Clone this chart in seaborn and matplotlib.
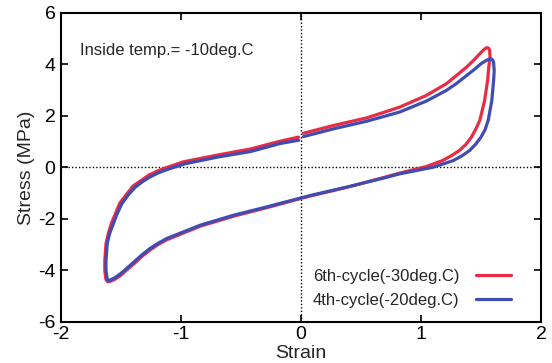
import matplotlib
matplotlib.use("Agg")
import matplotlib.pyplot as plt
import seaborn as sns
import pandas as pd

# 6th cycle (-30 deg.C) loop
red_x = [0.02, 0.27, 0.55, 0.82, 1.045, 1.21, 1.295, 1.38, 1.44, 1.49, 1.525, 1.545, 1.562, 1.572, 1.575,
         1.565, 1.555, 1.53, 1.49, 1.455, 1.42, 1.375, 1.32, 1.25, 1.18, 1.045, 0.82, 0.68, 0.4, 0.075, 0.0,
         -0.285, -0.56, -0.84, -1.12, -1.19, -1.26, -1.33, -1.39, -1.45, -1.50, -1.55, -1.59, -1.612,
         -1.625, -1.635, -1.635, -1.625, -1.605, -1.58, -1.547, -1.51, -1.45, -1.40, -1.325, -1.27,
         -1.20, -1.12, -0.98, -0.70, -0.42, -0.175, -0.02]
red_y = [1.33, 1.63, 1.93, 2.34, 2.80, 3.25, 3.57, 3.90, 4.17, 4.42, 4.58, 4.65, 4.64, 4.56, 4.30,
         3.90, 3.38, 2.60, 1.83, 1.48, 1.18, 0.90, 0.66, 0.45, 0.27, 0.04, -0.22, -0.40, -0.75, -1.11, -1.20,
         -1.56, -1.89, -2.28, -2.81, -2.99, -3.21, -3.47, -3.73, -3.97, -4.18, -4.34, -4.42, -4.43,
         -4.36, -4.00, -3.61, -2.96, -2.55, -2.17, -1.80, -1.38, -1.02, -0.72, -0.48, -0.30,
         -0.14, 0.00, 0.22, 0.48, 0.72, 1.02, 1.18]

# 4th cycle (-20 deg.C) loop
blue_x = [0.02, 0.27, 0.55, 0.82, 1.045, 1.21, 1.295, 1.38, 1.45, 1.50, 1.545, 1.572, 1.585, 1.598, 1.605,
          1.61, 1.605, 1.59, 1.56, 1.535, 1.50, 1.455, 1.405, 1.34, 1.27, 1.10, 0.82, 0.68, 0.4, 0.075, 0.0,
          -0.285, -0.56, -0.84, -1.12, -1.19, -1.26, -1.33, -1.39, -1.45, -1.50, -1.55, -1.59, -1.605,
          -1.615, -1.625, -1.625, -1.615, -1.595, -1.565, -1.535, -1.495, -1.44, -1.385, -1.315, -1.255,
          -1.19, -1.11, -0.97, -0.70, -0.42, -0.175, -0.02]
blue_y = [1.20, 1.50, 1.80, 2.15, 2.58, 2.99, 3.26, 3.57, 3.83, 4.03, 4.16, 4.21, 4.22, 4.17, 4.09,
          3.75, 3.38, 2.60, 1.83, 1.48, 1.18, 0.90, 0.66, 0.45, 0.27, 0.01, -0.25, -0.42, -0.74, -1.09, -1.18,
          -1.53, -1.85, -2.24, -2.76, -2.94, -3.15, -3.41, -3.66, -3.91, -4.11, -4.28, -4.37, -4.39,
          -4.33, -4.00, -3.61, -2.96, -2.57, -2.20, -1.83, -1.42, -1.07, -0.78, -0.53, -0.36,
          -0.21, -0.07, 0.14, 0.40, 0.62, 0.93, 1.06]

labels = ["6th-cycle(-30deg.C)", "4th-cycle(-20deg.C)"]
colors = ["#ea2b45", "#3f4db3"]
x_ticks = [-2, -1, 0, 1, 2]
y_ticks = [-6, -4, -2, 0, 2, 4, 6]

sns.set_style("ticks")
plt.rcParams["font.family"] = ["Liberation Sans", "DejaVu Sans"]

fig = plt.figure(figsize=(5.52, 3.63), dpi=100)
ax = fig.add_axes([61 / 552, 1 - 322 / 363, 480 / 552, 309 / 363])

ax.axhline(0, color="black", lw=1.0, ls=(0, (1, 1.5)), zorder=1)
ax.axvline(0, color="black", lw=1.0, ls=(0, (1, 1.5)), zorder=1)

df_red = pd.DataFrame({"x": red_x, "y": red_y})
df_blue = pd.DataFrame({"x": blue_x, "y": blue_y})
sns.lineplot(data=df_red, x="x", y="y", sort=False, estimator=None, color=colors[0],
             lw=2.3, label=labels[0], ax=ax, zorder=3)
sns.lineplot(data=df_blue, x="x", y="y", sort=False, estimator=None, color=colors[1],
             lw=2.3, label=labels[1], ax=ax, zorder=4)
for ln in ax.get_lines():
    ln.set_solid_joinstyle("round")
    ln.set_solid_capstyle("round")

ax.set_xlim(-2, 2)
ax.set_ylim(-6, 6)
ax.set_xticks(x_ticks)
ax.set_yticks(y_ticks)
ax.set_xticklabels([str(t) for t in x_ticks])
ax.set_yticklabels([str(t) for t in y_ticks])
ax.tick_params(direction="in", length=5, width=1.2, top=True, right=True, labelsize=14,
               colors="black", pad=4)
ax.tick_params(axis="x", pad=3)
for s in ax.spines.values():
    s.set_visible(True)
    s.set_linewidth(1.5)
    s.set_color("black")

ax.set_xlabel("Strain", fontsize=14, labelpad=1)
ax.set_ylabel("Stress (MPa)", fontsize=14, labelpad=2)

ax.text(0.04, 0.88, "Inside temp.= -10deg.C", transform=ax.transAxes, fontsize=12,
        ha="left", va="center")

leg = ax.legend(loc="lower right", bbox_to_anchor=(0.9375, 0.045), frameon=False,
                markerfirst=False, fontsize=12, handlelength=2.1, handletextpad=1.0,
                labelspacing=0.55, borderpad=0, borderaxespad=0)

fig.savefig("out.png", dpi=100)
